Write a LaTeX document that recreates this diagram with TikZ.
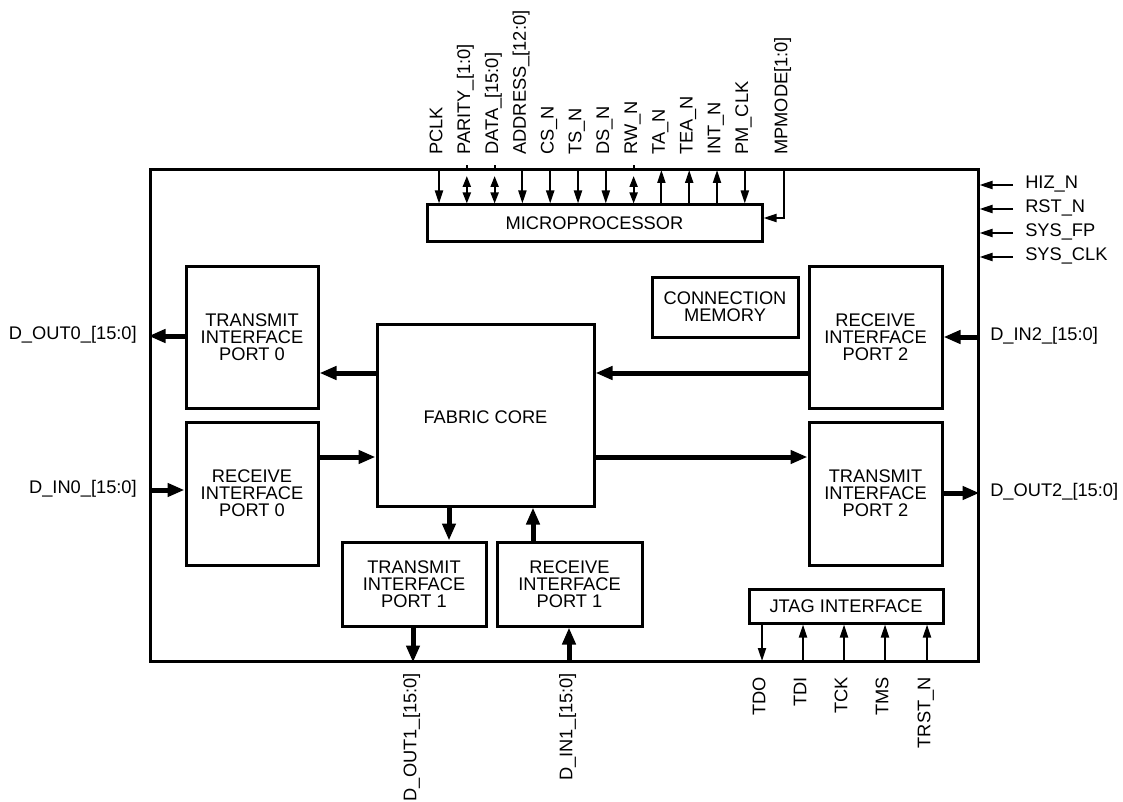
\documentclass[tikz,border=0pt]{standalone}
\usepackage{fontspec}
\setmainfont{Liberation Sans}
\usetikzlibrary{arrows.meta,fit}
\newcommand\dfont{\fontsize{13.7pt}{12.9pt}\selectfont}
\begin{document}
\begin{tikzpicture}[x=0.75pt,y=-0.75pt,
  box/.style={draw, line width=2.25pt, inner sep=0pt},
  boxtext/.style={inner sep=0pt, align=center, font=\dfont},
  thinarr/.style={line width=1.5pt, -{Triangle[length=9.75pt,width=6pt]}},
  thinboth/.style={line width=1.5pt, {Triangle[length=8.25pt,width=6pt]}-{Triangle[length=8.25pt,width=6pt]}},
  thickarr/.style={line width=3.75pt, -{Triangle[length=12.75pt,width=9.75pt]}},
  sig/.style={inner sep=0pt, font=\dfont, text height=0.72em, text depth=0.21em},
  vsig/.style={sig, rotate=90}]
\useasboundingbox (0,0) rectangle (1123,802);

% boxes
\node[box, fit={(150,170)(978,661)}] (chip) {};
\node[box, fit={(427,205)(762,241)}] (mp) {};
\node[box, fit={(186,266)(318,408)}] (tx0) {};
\node[box, fit={(186,422)(318,565)}] (rx0) {};
\node[box, fit={(377,324)(594,506)}] (fab) {};
\node[box, fit={(342,542)(486,626)}] (tx1) {};
\node[box, fit={(497,542)(642,626)}] (rx1) {};
\node[box, fit={(809,266)(942,408)}] (rx2) {};
\node[box, fit={(809,422)(942,565)}] (tx2) {};
\node[box, fit={(652,277)(798,337)}] (cm) {};
\node[box, fit={(749,589)(943,623)}] (jtag) {};

% box texts
\node[boxtext] (mpt) at (mp.center) {MICROPROCESSOR};
\node[boxtext] (tx0t) at (tx0.center) {TRANSMIT\\INTERFACE\\PORT 0};
\node[boxtext] (rx0t) at (rx0.center) {RECEIVE\\INTERFACE\\PORT 0};
\node[boxtext] (fabt) at (485.5,417) {FABRIC CORE};
\node[boxtext] (tx1t) at (tx1.center) {TRANSMIT\\INTERFACE\\PORT 1};
\node[boxtext] (rx1t) at (rx1.center) {RECEIVE\\INTERFACE\\PORT 1};
\node[boxtext] (rx2t) at (rx2.center) {RECEIVE\\INTERFACE\\PORT 2};
\node[boxtext] (tx2t) at (tx2.center) {TRANSMIT\\INTERFACE\\PORT 2};
\node[boxtext] (cmt) at (cm.center) {CONNECTION\\MEMORY};
\node[boxtext] (jtagt) at (jtag.center) {JTAG INTERFACE};

% top microprocessor signals
\foreach \n/\x/\t in {pclk/439/PCLK, parity/466.8/PARITY\_[1:0], data/494.6/DATA\_[15:0],
  addr/522.4/ADDRESS\_[12:0], cs/550.2/CS\_N, ts/578/TS\_N, ds/605.8/DS\_N, rw/633.6/RW\_N,
  ta/661.4/TA\_N, tea/689.2/TEA\_N, int/717/INT\_N, pmclk/744.8/PM\_CLK, mpmode/784/MPMODE[1:0]}{
  \coordinate (\n) at (\x,170);
  \node[vsig, anchor=west] (l\n) at (\x,155) {\t};
}
\foreach \n in {pclk,addr,cs,ts,ds,pmclk}{
  \draw[thinarr] (\n) -- (\n |- mp.north);
}
\foreach \n in {ta,tea,int}{
  \draw[thinarr] (\n |- mp.north) -- (\n);
}
\foreach \n in {parity,data,rw}{
  \draw[line width=1.5pt] (\n) -- ([yshift=4pt]\n);
  \draw[thinboth, shorten <=4.5pt] (\n) -- (\n |- mp.north);
}
\coordinate (mpbend) at (784,218);
\draw[thinarr] (mpmode) -- (mpbend) -- (mp.east |- mpbend);

% right system signals
\foreach \n/\y/\t in {hiz/185/HIZ\_N, rst/209/RST\_N, sysfp/233/SYS\_FP, sysclk/257/SYS\_CLK}{
  \coordinate (\n) at (1013,\y);
  \node[sig, anchor=west] (l\n) at (1025,\y) {\t};
  \draw[thinarr] (\n) -- (chip.east |- \n);
}

% internal data paths
\draw[thickarr] (fab.west |- 0,373) -- (tx0.east |- 0,373);
\draw[thickarr] (rx0.east |- 0,457) -- (fab.west |- 0,457);
\draw[thickarr] (rx2.west |- 0,373) -- (fab.east |- 0,373);
\draw[thickarr] (fab.east |- 0,457) -- (tx2.west |- 0,457);
\draw[thickarr] (fab.south -| 449,0) -- (tx1.north -| 449,0);
\draw[thickarr] (rx1.north -| 533,0) -- (fab.south -| 533,0);

% external data ports
\draw[thickarr] (tx0.west |- 0,336) -- (chip.west |- 0,336);
\draw[thickarr, shorten <=1.2pt] (chip.west |- 0,490) -- (rx0.west |- 0,490);
\draw[thickarr, shorten <=1.2pt] (chip.east |- 0,337) -- (rx2.east |- 0,337);
\draw[thickarr] (tx2.east |- 0,493) -- (chip.east |- 0,493);
\draw[thickarr] (tx1.south -| 413,0) -- (chip.south -| 413,0);
\draw[thickarr, shorten <=1.2pt] (chip.south -| 569,0) -- (rx1.south -| 569,0);

\node[sig, anchor=east] (ldout0) at (137,336) {D\_OUT0\_[15:0]};
\node[sig, anchor=east] (ldin0) at (137,490) {D\_IN0\_[15:0]};
\node[sig, anchor=west] (ldin2) at (990,337) {D\_IN2\_[15:0]};
\node[sig, anchor=west] (ldout2) at (990,493) {D\_OUT2\_[15:0]};
\node[vsig, anchor=east] (ldout1) at (413,673) {D\_OUT1\_[15:0]};
\node[vsig, anchor=east] (ldin1) at (569,673) {D\_IN1\_[15:0]};

% JTAG signals
\foreach \n/\x/\t in {tdo/762/TDO, tdi/803/TDI, tck/844/TCK, tms/885/TMS, trst/927/TRST\_N}{
  \coordinate (\n) at (\x,661);
  \node[vsig, anchor=east] (l\n) at (\x,677) {\t};
}
\draw[thinarr] (jtag.south -| tdo) -- (tdo);
\foreach \n in {tdi,tck,tms,trst}{
  \draw[thinarr] (\n) -- (jtag.south -| \n);
}
\end{tikzpicture}
\end{document}
